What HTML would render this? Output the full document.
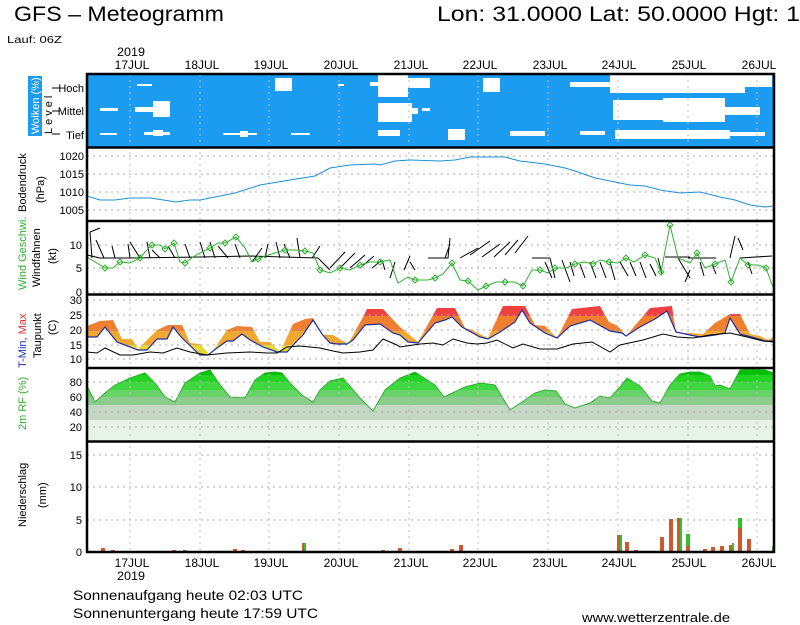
<!DOCTYPE html>
<html><head><meta charset="utf-8"><style>
html,body{margin:0;padding:0;background:#fff;}
svg{display:block;font-family:"Liberation Sans",sans-serif;}
</style></head><body>
<svg width="800" height="625" viewBox="0 0 800 625" xmlns="http://www.w3.org/2000/svg">
<defs>
<clipPath id="tclip"><polygon points="87,326 100,321 113,320 122,339 132,339 138,349 157,330 168,325 182,325 190,343 200,344 210,355 227,330 237,326 252,327 260,342 270,342 280,352 293,324 305,319 313,318 323,335 333,335 348,344 363,317 367,309 383,309 400,327 405,331 418,342 437,308 455,308 465,328 472,330 480,334 488,338 503,306 525,306 535,325 545,326 557,338 572,309 600,306 609,322 618,326 626,336 650,308 672,306 676,333 690,333 703,334 715,323 730,314 740,314 750,334 760,336 768,340 774,336 774,341 765,341 755,338 740,334 730,318 725,333 715,335 700,337 690,335 676,332 667,311 655,319 640,327 626,336 622,333 610,331 590,320 570,326 557,338 545,333 530,323 522,310 515,322 500,332 488,339 480,337 462,327 452,317 445,320 435,323 418,343 408,342 400,335 393,333 380,324 365,325 353,340 347,344 337,344 330,343 322,334 313,320 303,335 297,341 287,352 277,352 263,347 250,340 242,334 233,341 227,341 217,348 208,355 200,355 182,338 173,327 167,339 157,339 147,350 138,350 117,342 105,327 97,337 87,337"/></clipPath>
<clipPath id="rhclip"><polygon points="87,386 95,402 105,393 115,385 130,378 145,373 155,383 165,397 175,402 185,383 200,373 210,370 220,385 230,397 245,398 255,380 265,373 275,372 282,373 290,383 302,395 313,402 320,390 330,381 343,378 360,398 373,411 385,390 400,378 415,372 435,385 444,397 465,387 480,383 495,385 510,410 525,400 535,393 545,390 556,391 565,404 575,408 590,403 600,396 610,398 620,387 627,378 640,386 652,401 660,403 670,385 680,374 690,372 700,372 710,376 715,386 720,385 730,389 740,370 750,369 765,370 774,373 774,442 87,442"/></clipPath>
</defs>

<!-- Titles -->
<text x="14" y="21" font-size="21" textLength="210" lengthAdjust="spacingAndGlyphs">GFS – Meteogramm</text>
<text x="437" y="21" font-size="21" textLength="363" lengthAdjust="spacingAndGlyphs">Lon: 31.0000 Lat: 50.0000 Hgt: 1</text>
<text x="7" y="43" font-size="10" textLength="55" lengthAdjust="spacingAndGlyphs">Lauf: 06Z</text>
<text x="117" y="56" font-size="12" textLength="28" lengthAdjust="spacingAndGlyphs">2019</text>
<g font-size="12" text-anchor="middle">
<text x="132" y="69">17JUL</text><text x="202" y="69">18JUL</text><text x="271" y="69">19JUL</text><text x="341" y="69">20JUL</text><text x="411" y="69">21JUL</text><text x="480" y="69">22JUL</text><text x="550" y="69">23JUL</text><text x="619" y="69">24JUL</text><text x="689" y="69">25JUL</text><text x="759" y="69">26JUL</text>
<text x="132" y="567">17JUL</text><text x="202" y="567">18JUL</text><text x="271" y="567">19JUL</text><text x="341" y="567">20JUL</text><text x="411" y="567">21JUL</text><text x="480" y="567">22JUL</text><text x="550" y="567">23JUL</text><text x="619" y="567">24JUL</text><text x="689" y="567">25JUL</text><text x="759" y="567">26JUL</text>
</g>
<text x="117" y="580" font-size="12" textLength="28" lengthAdjust="spacingAndGlyphs">2019</text>
<text x="73" y="600" font-size="14" textLength="230" lengthAdjust="spacingAndGlyphs">Sonnenaufgang heute 02:03 UTC</text>
<text x="73" y="618" font-size="14" textLength="245" lengthAdjust="spacingAndGlyphs">Sonnenuntergang heute 17:59 UTC</text>
<text x="582" y="622" font-size="13" textLength="148" lengthAdjust="spacingAndGlyphs">www.wetterzentrale.de</text>

<!-- Cloud panel -->
<rect x="87" y="74" width="687" height="73" fill="#1c9cf0"/>
<g fill="#fff">
<rect x="137" y="84" width="15" height="2"/><rect x="275" y="78" width="17" height="13"/><rect x="338" y="84" width="6" height="2"/>
<rect x="370" y="82" width="8" height="4"/><rect x="378" y="75" width="30" height="22"/><rect x="408" y="78" width="22" height="10"/>
<rect x="483" y="78" width="17" height="14"/><rect x="570" y="82" width="40" height="5"/><rect x="610" y="75" width="55" height="18"/><rect x="665" y="75" width="80" height="18"/><rect x="745" y="75" width="27" height="12"/>
<rect x="100" y="108" width="18" height="3"/><rect x="135" y="107" width="35" height="5"/><rect x="153" y="101" width="17" height="16"/>
<rect x="378" y="103" width="34" height="19"/><rect x="412" y="108" width="6" height="6"/><rect x="422" y="108" width="8" height="3"/>
<rect x="613" y="100" width="50" height="20"/><rect x="663" y="98" width="62" height="24"/><rect x="725" y="107" width="35" height="8"/>
<rect x="100" y="133" width="17" height="2"/><rect x="144" y="132" width="26" height="3"/><rect x="153" y="130" width="10" height="6"/>
<rect x="223" y="133" width="34" height="2"/><rect x="240" y="131" width="8" height="6"/><rect x="291" y="133" width="19" height="2"/>
<rect x="378" y="130" width="22" height="6"/><rect x="448" y="129" width="17" height="11"/><rect x="510" y="131" width="35" height="5"/>
<rect x="580" y="131" width="25" height="4"/><rect x="615" y="130" width="115" height="9"/><rect x="730" y="132" width="35" height="4"/>
</g>
<rect x="87" y="148" width="687" height="293" fill="#fff"/>

<!-- RH fill bands -->
<g clip-path="url(#rhclip)">
<rect x="87" y="367" width="687" height="8" fill="#00c000"/>
<rect x="87" y="375" width="687" height="7" fill="#20d420"/>
<rect x="87" y="382" width="687" height="8" fill="#40d840"/>
<rect x="87" y="390" width="687" height="7" fill="#68d468"/>
<rect x="87" y="397" width="687" height="8" fill="#8ccc8c"/>
<rect x="87" y="405" width="687" height="15" fill="#c4d6c4"/>
<rect x="87" y="420" width="687" height="22" fill="#e6f3e6"/>
</g>
<polyline fill="none" stroke="#30b030" stroke-width="1" points="87,386 95,402 105,393 115,385 130,378 145,373 155,383 165,397 175,402 185,383 200,373 210,370 220,385 230,397 245,398 255,380 265,373 275,372 282,373 290,383 302,395 313,402 320,390 330,381 343,378 360,398 373,411 385,390 400,378 415,372 435,385 444,397 465,387 480,383 495,385 510,410 525,400 535,393 545,390 556,391 565,404 575,408 590,403 600,396 610,398 620,387 627,378 640,386 652,401 660,403 670,385 680,374 690,372 700,372 710,376 715,386 720,385 730,389 740,370 750,369 765,370 774,373"/>

<!-- Temp fill -->
<g clip-path="url(#tclip)">
<rect x="87" y="290" width="687" height="26" fill="#f04040"/>
<rect x="87" y="316" width="687" height="15" fill="#f08030"/>
<rect x="87" y="331" width="687" height="14" fill="#f0a830"/>
<rect x="87" y="345" width="687" height="25" fill="#e8d830"/>
</g>

<!-- Grid -->
<g stroke="#aaa" stroke-width="1" stroke-dasharray="2,4">
<line x1="87" x2="774" y1="156" y2="156"/><line x1="87" x2="774" y1="174" y2="174"/><line x1="87" x2="774" y1="192" y2="192"/><line x1="87" x2="774" y1="210" y2="210"/>
<line x1="87" x2="774" y1="245" y2="245"/><line x1="87" x2="774" y1="268" y2="268"/><line x1="87" x2="774" y1="292" y2="292"/>
<line x1="87" x2="774" y1="300" y2="300"/><line x1="87" x2="774" y1="315" y2="315"/><line x1="87" x2="774" y1="330" y2="330"/><line x1="87" x2="774" y1="345" y2="345"/><line x1="87" x2="774" y1="359" y2="359"/>
<line x1="87" x2="774" y1="382" y2="382"/><line x1="87" x2="774" y1="397" y2="397"/><line x1="87" x2="774" y1="412" y2="412"/><line x1="87" x2="774" y1="427" y2="427"/>
<line x1="87" x2="774" y1="455" y2="455"/><line x1="87" x2="774" y1="487" y2="487"/><line x1="87" x2="774" y1="520" y2="520"/>
</g>
<g stroke="#bbb" stroke-width="1" stroke-dasharray="2,4">
<line x1="130" x2="130" y1="74" y2="552"/><line x1="200" x2="200" y1="74" y2="552"/><line x1="269" x2="269" y1="74" y2="552"/><line x1="339" x2="339" y1="74" y2="552"/><line x1="409" x2="409" y1="74" y2="552"/><line x1="478" x2="478" y1="74" y2="552"/><line x1="548" x2="548" y1="74" y2="552"/><line x1="618" x2="618" y1="74" y2="552"/><line x1="688" x2="688" y1="74" y2="552"/><line x1="757" x2="757" y1="74" y2="552"/>
</g>

<!-- Pressure -->
<polyline fill="none" stroke="#2090d0" stroke-width="1" points="87,196 100,200 115,200 130,198 150,198 170,201 175,202 190,200 200,200 220,196 235,193 260,185 290,180 315,176 330,168 350,165 375,164 380,165 395,161 410,160 440,161 455,160 470,157 490,157 505,157 520,161 545,164 565,168 575,171 595,178 610,181 630,185 645,186 660,190 680,193 700,192 720,197 735,200 750,205 765,207 774,206"/>

<!-- Temp lines -->
<polyline fill="none" stroke="#2030a0" stroke-width="1.2" points="87,337 97,337 105,327 117,342 138,350 147,350 157,339 167,339 173,327 182,338 200,355 208,355 217,348 227,341 233,341 242,334 250,340 263,347 277,352 287,352 297,341 303,335 313,320 322,334 330,343 337,344 347,344 353,340 365,325 380,324 393,333 400,335 408,342 418,343 435,323 445,320 452,317 462,327 480,337 488,339 500,332 515,322 522,310 530,323 545,333 557,338 570,326 590,320 610,331 622,333 626,336 640,327 655,319 667,311 676,332 690,335 700,337 715,335 725,333 730,318 740,334 755,338 765,341 774,341"/>
<polyline fill="none" stroke="#000" stroke-width="1" points="87,352 97,353 105,348 120,355 133,355 150,352 163,353 177,348 190,352 207,355 227,353 250,352 267,353 277,353 287,347 300,346 320,348 333,351 343,353 360,352 373,350 383,339 397,345 400,347 420,344 433,343 443,345 453,339 467,343 477,344 487,343 497,340 513,348 523,344 540,349 557,349 573,344 592,342 610,352 620,345 643,340 663,334 677,337 693,338 710,335 730,333 747,337 763,341 773,342"/>

<!-- Wind barbs (approx) -->
<g stroke="#000" stroke-width="1" fill="none">
<polyline points="87,255 100,258 130,258 200,257 250,256 318,258"/>
<path d="M92,258 L90,232 M90,232 L100,228 M104,258 L96,240 M115,258 L112,246 M130,258 L128,244 M140,258 L130,242 M150,258 L147,242 M160,258 L152,250 M175,258 L168,246 M190,258 L185,244 M205,258 L200,242 M215,258 L210,242 M228,258 L218,246 M240,258 L235,244 M252,262 L262,248 M265,258 L268,244 M280,258 L276,242 M290,258 L284,244 M300,258 L297,238 M312,258 L320,246"/>
<path d="M318,258 L330,270 M330,268 L345,252 M340,268 L355,253 M350,268 L365,255 M360,268 L374,256 M372,268 L382,260 M385,270 L382,260 M395,262 L390,278 M404,270 L410,256 M410,262 L415,270"/>
<path d="M428,258 L448,258 L450,238 M445,258 L450,244 M460,258 L478,248 M470,255 L490,241 M482,257 L500,244 M494,257 L510,242 M505,255 L518,240 M515,253 L528,236"/>
<path d="M532,258 L550,258 M550,258 L555,278 M545,262 L552,278 M562,260 L570,282 M570,262 L574,276 M580,264 L585,278 M590,262 L596,278 M600,262 L606,278 M610,262 L615,280 M620,262 L628,276 M630,262 L636,276 M640,262 L646,278 M650,264 L656,276 M658,258 L662,274"/>
<path d="M665,257 L690,257 M678,258 L690,278 M690,270 L685,282 M688,258 L716,258 M700,262 L704,276 M712,264 L716,274 M730,258 L735,236 M738,238 L743,250 M740,258 L772,256 M748,262 L752,274"/>
</g>
<polyline fill="none" stroke="#30b030" stroke-width="1" points="87,257 105,268 113,268 120,262 130,263 140,258 145,252 152,245 160,245 165,249 174,243 180,262 185,263 193,257 200,253 210,248 218,243 225,243 236,237 245,248 252,262 258,259 265,256 275,253 285,250 295,250 305,251 313,253 320,270 330,273 340,268 350,270 360,265 370,262 380,262 390,260 398,283 408,277 415,280 428,280 435,278 443,274 452,263 460,280 468,281 478,290 486,286 496,282 505,282 514,282 523,286 532,270 540,270 548,273 555,268 566,268 575,264 584,262 593,264 600,260 609,262 618,263 626,258 634,262 645,255 655,258 661,272 670,225 678,258 690,263 697,253 705,268 715,264 725,260 731,282 740,258 748,265 758,265 766,268 774,290"/>
<g fill="none" stroke="#30b030" stroke-width="1">
<path d="M105,265 l3,3 -3,3 -3,-3z M120,259 l3,3 -3,3 -3,-3z M140,255 l3,3 -3,3 -3,-3z M152,242 l3,3 -3,3 -3,-3z M165,246 l3,3 -3,3 -3,-3z M174,240 l3,3 -3,3 -3,-3z M185,260 l3,3 -3,3 -3,-3z M210,245 l3,3 -3,3 -3,-3z M225,240 l3,3 -3,3 -3,-3z M236,234 l3,3 -3,3 -3,-3z M258,256 l3,3 -3,3 -3,-3z M285,247 l3,3 -3,3 -3,-3z M305,248 l3,3 -3,3 -3,-3z M320,267 l3,3 -3,3 -3,-3z M340,265 l3,3 -3,3 -3,-3z M360,262 l3,3 -3,3 -3,-3z M380,259 l3,3 -3,3 -3,-3z M415,277 l3,3 -3,3 -3,-3z M435,275 l3,3 -3,3 -3,-3z M452,260 l3,3 -3,3 -3,-3z M468,278 l3,3 -3,3 -3,-3z M486,283 l3,3 -3,3 -3,-3z M505,279 l3,3 -3,3 -3,-3z M523,283 l3,3 -3,3 -3,-3z M540,267 l3,3 -3,3 -3,-3z M555,265 l3,3 -3,3 -3,-3z M575,261 l3,3 -3,3 -3,-3z M593,261 l3,3 -3,3 -3,-3z M609,259 l3,3 -3,3 -3,-3z M626,255 l3,3 -3,3 -3,-3z M645,252 l3,3 -3,3 -3,-3z M661,269 l3,3 -3,3 -3,-3z M670,222 l3,3 -3,3 -3,-3z M697,250 l3,3 -3,3 -3,-3z M715,261 l3,3 -3,3 -3,-3z M731,279 l3,3 -3,3 -3,-3z M748,262 l3,3 -3,3 -3,-3z M766,265 l3,3 -3,3 -3,-3z"/>
</g>

<!-- Precip bars -->
<g fill="#d05830">
<rect x="101" y="548" width="4" height="4"/><rect x="111" y="550" width="4" height="2"/><rect x="172" y="550" width="4" height="2"/><rect x="183" y="550" width="4" height="2"/>
<rect x="233" y="549" width="4" height="3"/><rect x="241" y="550" width="4" height="2"/><rect x="295" y="551" width="4" height="1"/><rect x="302" y="543" width="4" height="9"/>
<rect x="381" y="550" width="4" height="2"/><rect x="398" y="548" width="4" height="4"/><rect x="450" y="549" width="4" height="3"/><rect x="459" y="545" width="4" height="7"/>
<rect x="617" y="535" width="5" height="17"/><rect x="625" y="542" width="4" height="10"/><rect x="634" y="550" width="4" height="2"/><rect x="660" y="537" width="4" height="15"/>
<rect x="669" y="519" width="4" height="33"/><rect x="677" y="518" width="5" height="34"/><rect x="686" y="546" width="4" height="6"/><rect x="703" y="549" width="4" height="3"/>
<rect x="711" y="547" width="4" height="5"/><rect x="720" y="546" width="4" height="6"/><rect x="729" y="545" width="4" height="7"/><rect x="738" y="528" width="4" height="24"/><rect x="747" y="539" width="4" height="13"/><rect x="772" y="550" width="2" height="2"/>
</g>
<g fill="#30c030">
<rect x="620" y="535" width="2" height="17"/><rect x="680" y="518" width="2" height="34"/><rect x="686" y="534" width="4" height="12"/><rect x="694" y="551" width="4" height="1"/>
<rect x="732" y="543" width="2" height="9"/><rect x="738" y="518" width="4" height="10"/><rect x="772" y="546" width="2" height="4"/><rect x="185" y="550" width="2" height="2"/><rect x="304" y="543" width="2" height="9"/>
</g>

<!-- Frames -->
<g stroke="#000" stroke-width="2.5" fill="none">
<rect x="87" y="74" width="687" height="478"/>
<line x1="87" x2="774" y1="147.5" y2="147.5"/><line x1="87" x2="774" y1="221" y2="221"/><line x1="87" x2="774" y1="294.5" y2="294.5"/><line x1="87" x2="774" y1="368" y2="368"/><line x1="87" x2="774" y1="441.5" y2="441.5"/>
</g>

<!-- Y labels -->
<g font-size="11" text-anchor="end">
<text x="84" y="160">1020</text><text x="84" y="178">1015</text><text x="84" y="196">1010</text><text x="84" y="214">1005</text>
<text x="82" y="249">10</text><text x="82" y="272">5</text><text x="82" y="296">0</text>
<text x="82" y="304">30</text><text x="82" y="319">25</text><text x="82" y="334">20</text><text x="82" y="349">15</text><text x="82" y="363">10</text>
<text x="82" y="386">80</text><text x="82" y="401">60</text><text x="82" y="416">40</text><text x="82" y="431">20</text>
<text x="82" y="459">15</text><text x="82" y="491">10</text><text x="82" y="524">5</text><text x="82" y="556">0</text>
<text x="84" y="92">Hoch</text><text x="84" y="115">Mittel</text><text x="84" y="139">Tief</text>
</g>
<g stroke="#000" stroke-width="1"><line x1="52" x2="60" y1="88" y2="88"/><line x1="52" x2="60" y1="111" y2="111"/><line x1="52" x2="60" y1="134" y2="134"/></g>
<rect x="28" y="76" width="14" height="60" fill="#1c9cf0"/>
<g font-size="11">
<text transform="translate(39,134) rotate(-90)" fill="#fff">Wolken (%)</text>
<text transform="translate(52,134) rotate(-90)" letter-spacing="3">Level</text>
<text transform="translate(26,212) rotate(-90)">Bodendruck</text>
<text transform="translate(44,203) rotate(-90)">(hPa)</text>
<text transform="translate(26,290) rotate(-90)" fill="#30b030">Wind Geschwi.</text>
<text transform="translate(40,287) rotate(-90)">Windfahnen</text>
<text transform="translate(56,264) rotate(-90)">(kt)</text>
<text transform="translate(26,368) rotate(-90)"><tspan fill="#2030c0">T-Min, </tspan><tspan fill="#e03030">Max</tspan></text>
<text transform="translate(41,358) rotate(-90)">Taupunkt</text>
<text transform="translate(56,335) rotate(-90)">(C)</text>
<text transform="translate(26,430) rotate(-90)" fill="#30b030">2m RF (%)</text>
<text transform="translate(26,527) rotate(-90)">Niederschlag</text>
<text transform="translate(46,508) rotate(-90)">(mm)</text>
</g>
</svg>
</body></html>
